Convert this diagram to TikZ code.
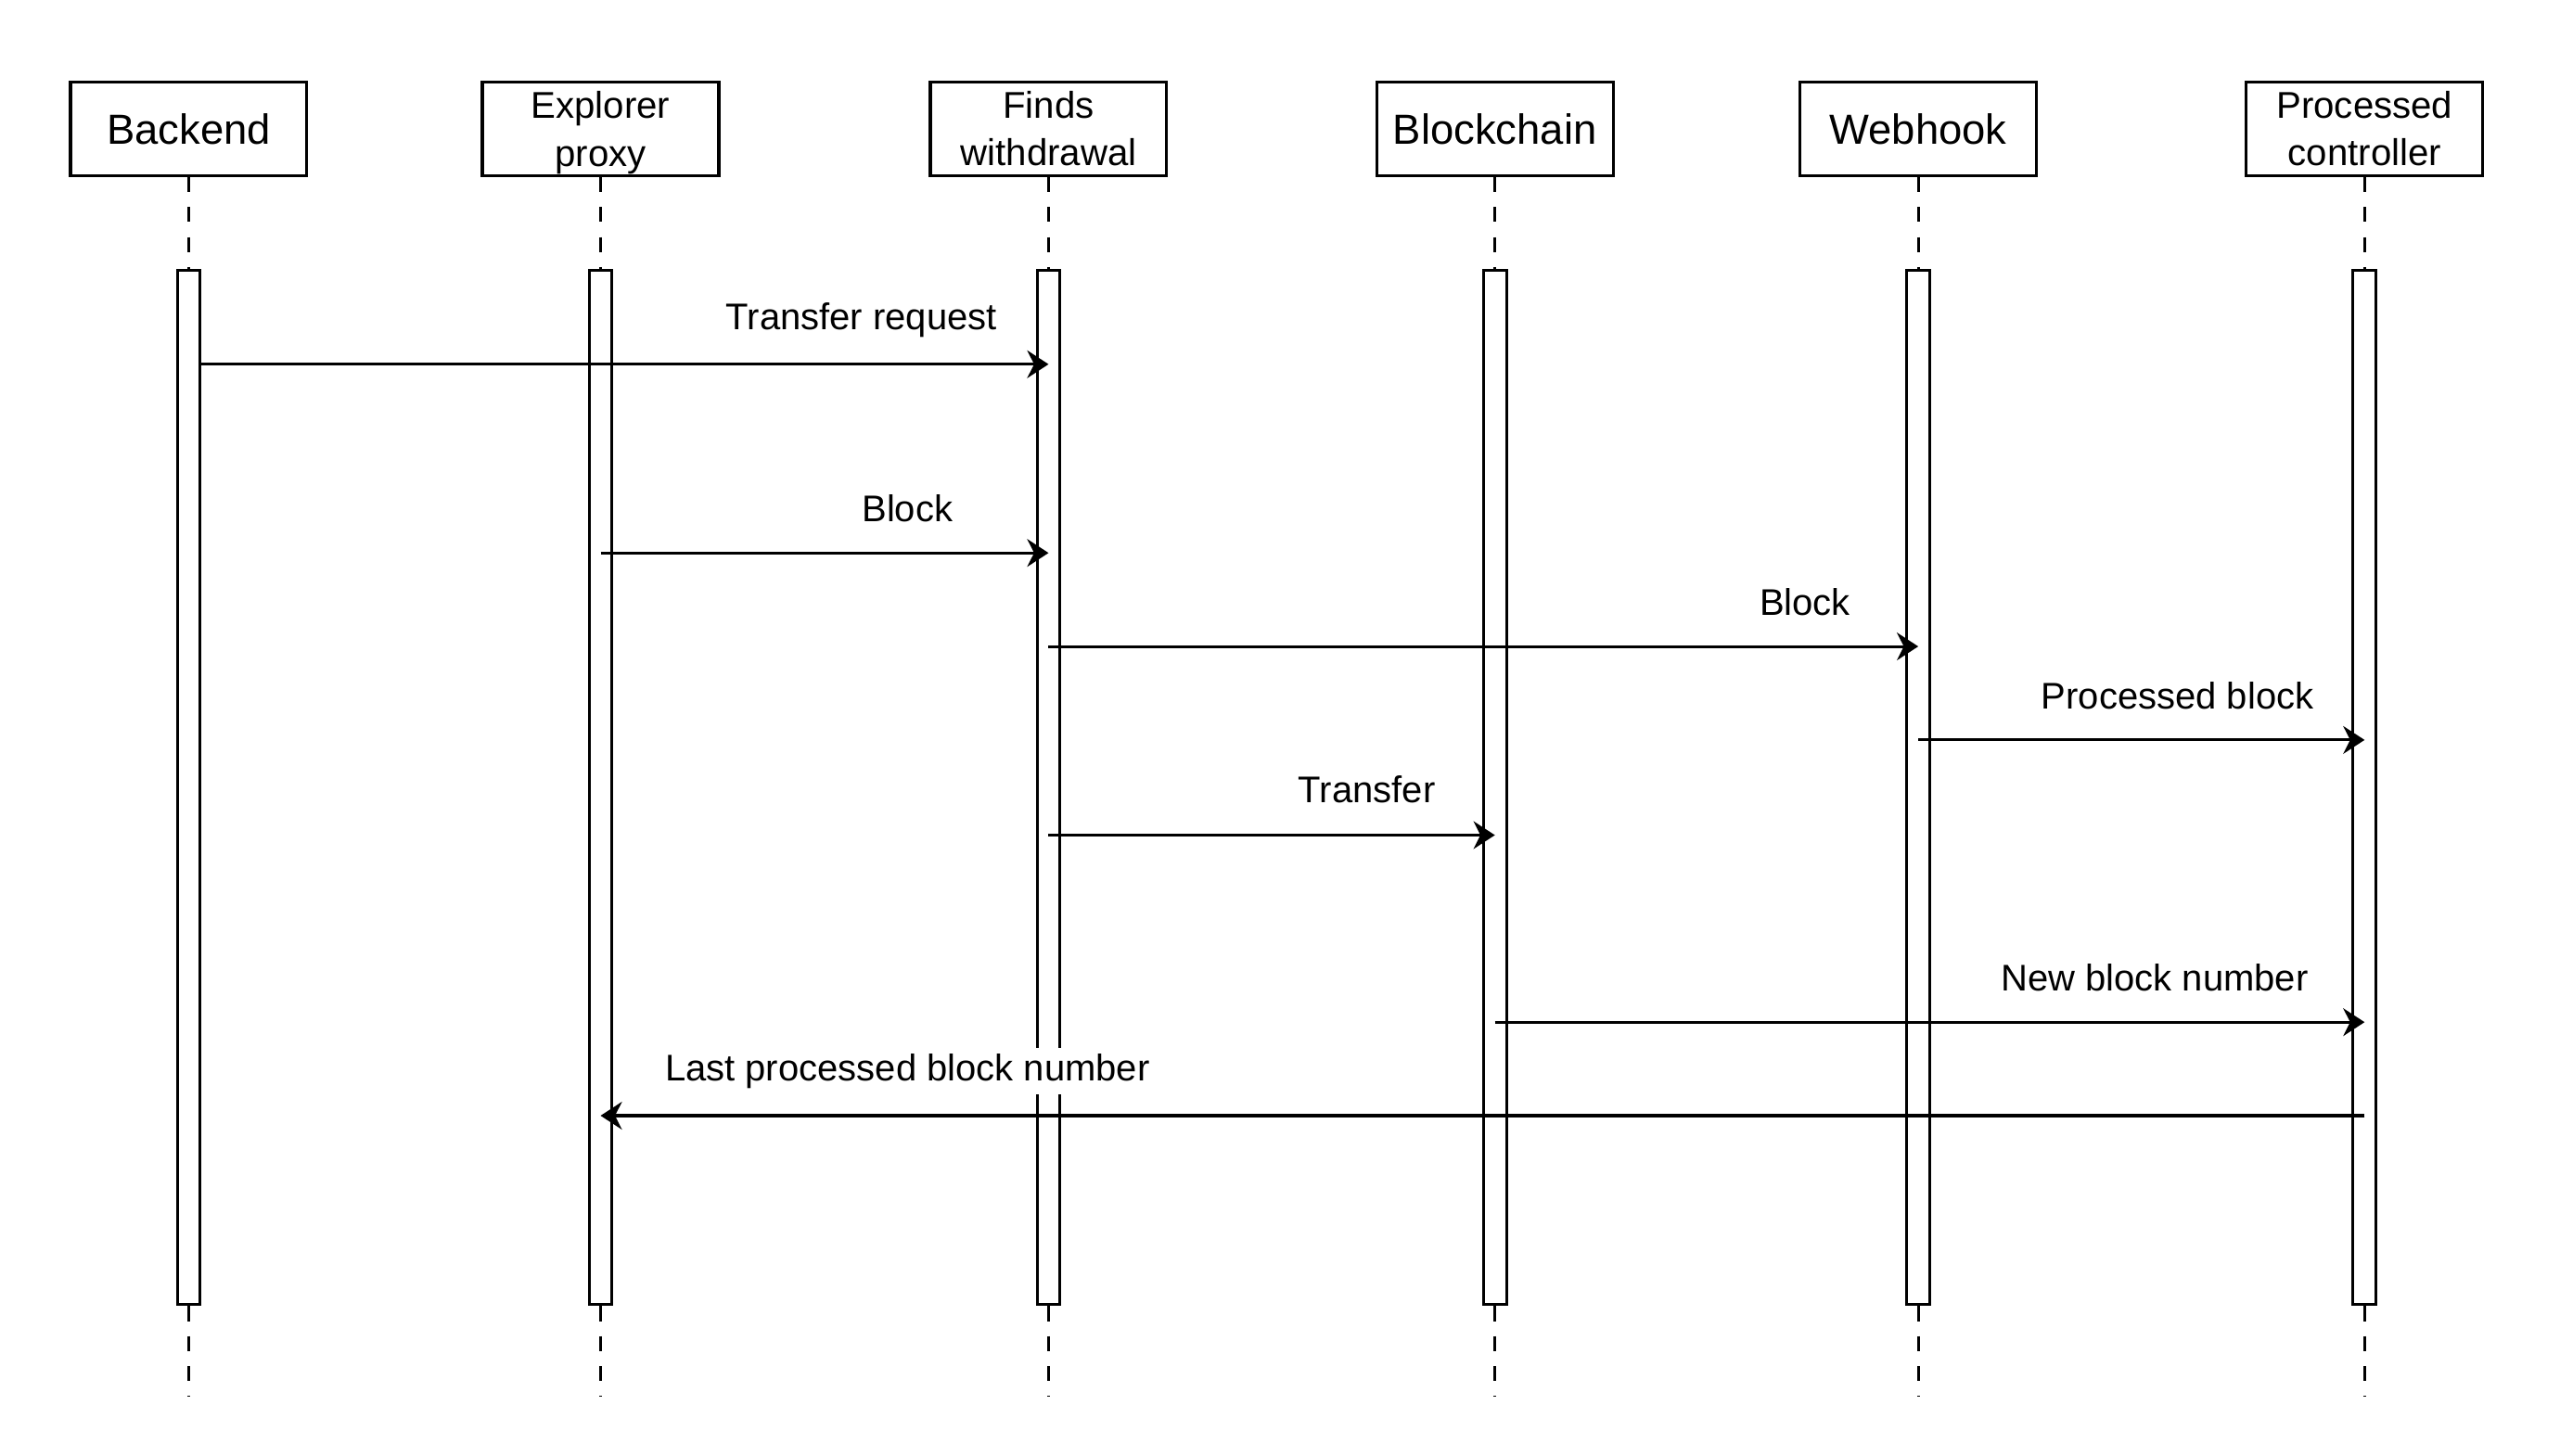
\documentclass[tikz,border=0pt]{standalone}
\usepackage{fontspec}
\setmainfont{Liberation Sans}
\usetikzlibrary{arrows.meta, positioning}

\begin{document}
\begin{tikzpicture}[x=0.01cm,y=-0.01cm,
    actor/.style={draw,line width=0.5pt,minimum width=1.44cm,minimum height=0.57cm,inner sep=0pt,align=center},
    bar/.style={draw,fill=white,line width=0.5pt,minimum width=0.14cm,minimum height=6.3cm,inner sep=0pt},
    life/.style={line width=0.5pt,dash pattern=on 2.6pt off 2.6pt},
    msg/.style={line width=0.5pt,-{Stealth[length=3.7pt,width=4.8pt,inset=1.2pt]}},
    lbl/.style={font=\fontsize{6.43}{8}\selectfont,fill=white,inner xsep=0pt,inner ysep=1pt}]
    \useasboundingbox (0,0) rectangle (1568,887);
    % lifelines
    \foreach \id/\x/\fs/\txt in {backend/115/7.3/Backend, proxy/366/6.46/{Explorer\\\smash{proxy}},
        finds/639/6.46/{Finds\\withdrawal}, chain/911/7.3/Blockchain,
        hook/1169/7.3/Webhook, ctrl/1441/6.46/{Processed\\controller}} {
      \node[actor,font=\fontsize{\fs}{8.25}\selectfont] (\id) at (\x,78.5) {\txt};
      \node[bar] (\id bar) at (\x,480) {};
      \draw[life] (\id) -- (\id bar);
      \draw[life] (\id bar.south) -- ++(0,55);
    }
    \coordinate (m1) at (0,222);
    \coordinate (m2) at (0,337);
    \coordinate (m3) at (0,394);
    \coordinate (m4) at (0,451);
    \coordinate (m5) at (0,509);
    \coordinate (m6) at (0,623);
    \coordinate (m7) at (0,680);
    % messages
    \draw[msg] (backendbar.east |- m1) -- (findsbar |- m1);
    \draw[msg] (proxybar |- m2) -- (findsbar |- m2);
    \draw[msg] (findsbar |- m3) -- (hookbar |- m3);
    \draw[msg] (hookbar |- m4) -- (ctrlbar |- m4);
    \draw[msg] (findsbar |- m5) -- (chainbar |- m5);
    \draw[msg] (chainbar |- m6) -- (ctrlbar |- m6);
    \draw[msg] (ctrlbar |- m7) -- (proxybar |- m7);
    \node[lbl] (l1) at (525,195) {Transfer request};
    \node[lbl] (l2) at (553,310) {Block};
    \node[lbl] (l3) at (1100,367) {Block};
    \node[lbl] (l4) at (1327,424) {Processed block};
    \node[lbl] (l5) at (833,481) {Transfer};
    \node[lbl] (l6) at (1313,596) {New block number};
    \node[lbl] (l7) at (553,653) {Last processed block number};
\end{tikzpicture}
\end{document}
